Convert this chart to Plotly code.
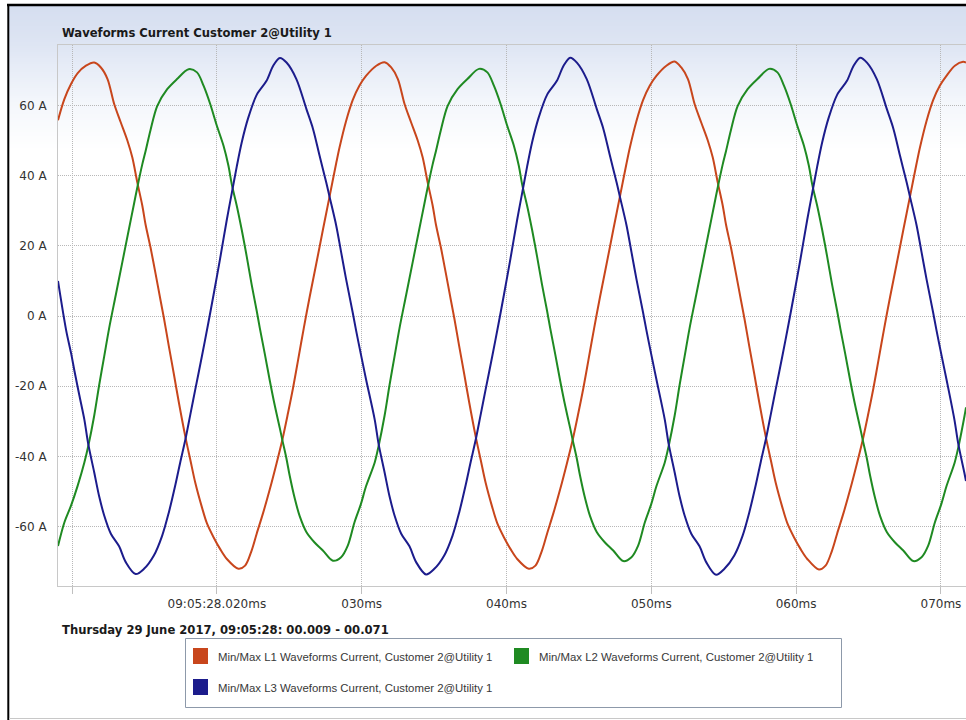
import plotly.graph_objects as go

# ---------------- data (time in ms after 09:05:28) ----------------
l1_t = [9.03, 9.47, 9.93, 10.39, 10.96, 11.53, 11.99, 12.45, 12.91, 13.36, 13.82, 14.16, 14.51, 14.85,
        15.08, 15.42, 15.77, 16.11, 16.34, 16.68, 17.03, 17.37, 17.83, 18.17, 18.51, 18.97, 19.31, 19.77,
        20.23, 20.69, 21.49, 21.95, 22.4, 22.75, 23.2, 23.66, 24.12, 24.53, 24.92, 25.26, 25.61, 26.0,
        26.41, 26.86, 27.32, 27.78, 28.24, 28.47, 28.92, 29.38, 29.84, 30.3,
        31.01, 31.58, 32.04, 32.5, 32.96, 33.41, 33.87, 34.21, 34.56, 34.9, 35.13, 35.47, 35.82, 36.16,
        36.39, 36.73, 37.08, 37.42, 37.88, 38.22, 38.56, 39.02, 39.36, 39.82, 40.28, 40.74, 41.54, 42.0,
        42.45, 42.8, 43.25, 43.71, 44.17, 44.58, 44.97, 45.31, 45.66, 46.05, 46.46, 46.91, 47.37, 47.83,
        48.29, 48.52, 48.97, 49.43, 49.89, 50.35,
        51.04, 51.61, 52.07, 52.53, 52.99, 53.44, 53.9, 54.24, 54.59, 54.93, 55.16, 55.5, 55.85, 56.19,
        56.42, 56.76, 57.11, 57.45, 57.91, 58.25, 58.59, 59.05, 59.39, 59.85, 60.31, 60.77, 61.57, 62.03,
        62.48, 62.83, 63.28, 63.74, 64.2, 64.61, 65.0, 65.34, 65.69, 66.08, 66.49, 66.94, 67.4, 67.86,
        68.32, 68.55, 69.0, 69.46, 69.92, 70.38, 70.96, 71.53, 71.73]
l1_v = [55.8, 61.8, 66.1, 69.2, 71.3, 72.2, 70.8, 67.5, 60.4, 55.2, 50.0, 45.2, 38.0, 31.5,
        26.0, 19.5, 12.0, 4.5, -0.5, -8.5, -16.5, -24.5, -34.5, -41.0, -47.5, -54.5, -59.0, -63.0,
        -66.4, -69.2, -72.0, -71.1, -66.8, -62.0, -56.0, -49.3, -42.0, -35.1, -27.5, -20.5, -12.5, -3.5,
        5.5, 14.8, 24.5, 34.0, 43.5, 48.0, 55.5, 61.5, 65.6, 68.4,
        71.3, 72.3, 70.8, 67.5, 60.4, 55.2, 50.0, 45.2, 38.0, 31.5, 26.0, 19.5, 12.0, 4.5,
        -0.5, -8.5, -16.5, -24.5, -34.5, -41.0, -47.5, -54.5, -59.0, -63.0, -66.4, -69.2, -72.0, -71.1,
        -66.8, -62.0, -56.0, -49.3, -42.0, -35.1, -27.5, -20.5, -12.5, -3.5, 5.5, 14.8, 24.5, 34.0,
        43.5, 48.0, 55.5, 61.5, 65.6, 68.4,
        71.3, 72.5, 70.8, 67.5, 60.4, 55.2, 50.0, 45.2, 38.0, 31.5, 26.0, 19.5, 12.0, 4.5,
        -0.5, -8.5, -16.5, -24.5, -34.5, -41.0, -47.5, -54.5, -59.0, -63.0, -66.4, -69.2, -72.2, -71.1,
        -66.8, -62.0, -56.0, -49.3, -42.0, -35.1, -27.5, -20.5, -12.5, -3.5, 5.5, 14.8, 24.5, 34.0,
        43.5, 48.0, 55.5, 61.5, 65.6, 68.4, 71.3, 72.4, 72.2]

l2_t = [9.03, 9.47, 9.93, 10.39, 10.85, 11.12, 11.53, 11.88, 12.22, 12.56, 13.02, 13.48, 13.94, 14.28,
        14.51, 14.85, 15.08, 15.42, 15.88, 16.57, 17.25, 18.05, 18.63, 19.08, 19.54, 20.0, 20.46, 20.8,
        21.03, 21.37, 21.72, 22.06, 22.4, 22.75, 22.97, 23.32, 23.66, 24.0, 24.35, 24.53, 24.8, 25.03,
        25.38, 25.72, 26.18, 26.75, 27.32, 28.01, 28.58, 29.04, 29.5, 29.95, 30.3,
        30.9, 31.17, 31.58, 31.93, 32.27, 32.61, 33.07, 33.53, 33.99, 34.33, 34.56, 34.9, 35.13, 35.47,
        35.93, 36.62, 37.3, 38.1, 38.68, 39.13, 39.59, 40.05, 40.51, 40.85, 41.08, 41.42, 41.77, 42.11,
        42.45, 42.8, 43.02, 43.37, 43.71, 44.05, 44.4, 44.58, 44.85, 45.08, 45.43, 45.77, 46.23, 46.8,
        47.37, 48.06, 48.63, 49.09, 49.55, 50.0, 50.35,
        50.93, 51.2, 51.61, 51.96, 52.3, 52.64, 53.1, 53.56, 54.02, 54.36, 54.59, 54.93, 55.16, 55.5,
        55.96, 56.65, 57.33, 58.13, 58.71, 59.16, 59.62, 60.08, 60.54, 60.88, 61.11, 61.45, 61.8, 62.14,
        62.48, 62.83, 63.05, 63.4, 63.74, 64.08, 64.43, 64.61, 64.88, 65.11, 65.46, 65.8, 66.26, 66.83,
        67.4, 68.09, 68.66, 69.12, 69.58, 70.03, 70.38, 70.95, 71.22, 71.63, 71.73]
l2_v = [-65.5, -58.8, -54.0, -48.3, -41.7, -37.0, -28.4, -19.5, -11.5, -3.5, 6.0, 15.5, 25.0, 32.0,
        36.7, 43.2, 47.0, 53.0, 59.8, 64.6, 67.5, 70.3, 69.4, 65.6, 60.4, 54.2, 48.5, 42.8,
        37.5, 31.5, 24.5, 17.0, 9.0, 1.5, -3.5, -11.0, -18.5, -25.5, -32.0, -35.5, -40.5, -45.5,
        -52.0, -57.0, -61.5, -64.5, -66.8, -69.7, -68.7, -65.4, -58.8, -53.5, -48.5,
        -41.7, -37.0, -28.4, -19.5, -11.5, -3.5, 6.0, 15.5, 25.0, 32.0, 36.7, 43.2, 47.0, 53.0,
        59.8, 64.6, 67.5, 70.4, 69.4, 65.6, 60.4, 54.2, 48.5, 42.8, 37.5, 31.5, 24.5, 17.0,
        9.0, 1.5, -3.5, -11.0, -18.5, -25.5, -32.0, -35.5, -40.5, -45.5, -52.0, -57.0, -61.5, -64.5,
        -66.8, -69.8, -68.7, -65.4, -58.8, -53.5, -48.5,
        -41.7, -37.0, -28.4, -19.5, -11.5, -3.5, 6.0, 15.5, 25.0, 32.0, 36.7, 43.2, 47.0, 53.0,
        59.8, 64.6, 67.5, 70.4, 69.4, 65.6, 60.4, 54.2, 48.5, 42.8, 37.5, 31.5, 24.5, 17.0,
        9.0, 1.5, -3.5, -11.0, -18.5, -25.5, -32.0, -35.5, -40.5, -45.5, -52.0, -57.0, -61.5, -64.5,
        -66.8, -69.8, -68.7, -65.4, -58.8, -53.5, -48.5, -41.7, -37.0, -28.4, -26.0]

l3_t = [9.03, 9.59, 9.93, 10.16, 10.5, 10.85, 11.12, 11.53, 11.88, 12.22, 12.68, 13.25, 13.71, 14.39,
        14.97, 15.65, 16.22, 16.68, 17.14, 17.48, 17.83, 18.17, 18.51, 18.97, 19.4, 19.77, 20.23, 20.69,
        21.03, 21.37, 21.72, 22.17, 22.75, 23.43, 23.89, 24.35, 24.81, 25.49, 26.18, 26.64, 27.09, 27.55,
        27.78, 28.24, 28.58, 28.92, 29.38, 29.61, 29.95, 30.3,
        30.9, 31.17, 31.58, 31.93, 32.27, 32.73, 33.3, 33.76, 34.44, 35.02, 35.7, 36.27, 36.73, 37.19,
        37.53, 37.88, 38.22, 38.56, 39.02, 39.45, 39.82, 40.28, 40.74, 41.08, 41.42, 41.77, 42.22, 42.8,
        43.48, 43.94, 44.4, 44.86, 45.54, 46.23, 46.69, 47.14, 47.6, 47.83, 48.29, 48.63, 48.97, 49.43,
        49.66, 50.0, 50.35,
        50.93, 51.2, 51.61, 51.96, 52.3, 52.76, 53.33, 53.79, 54.47, 55.05, 55.73, 56.3, 56.76, 57.22,
        57.56, 57.91, 58.25, 58.59, 59.05, 59.48, 59.85, 60.31, 60.77, 61.11, 61.45, 61.8, 62.25, 62.83,
        63.51, 63.97, 64.43, 64.89, 65.57, 66.26, 66.72, 67.17, 67.63, 67.86, 68.32, 68.66, 69.0, 69.46,
        69.69, 70.03, 70.38, 70.93, 71.2, 71.61, 71.73]
l3_v = [10.0, -4.0, -10.5, -15.5, -22.5, -29.5, -36.5, -44.5, -51.5, -56.8, -62.0, -65.6, -70.1, -73.5,
        -72.0, -68.2, -62.6, -56.0, -48.0, -41.5, -35.1, -28.0, -20.9, -11.4, -2.2, 6.0, 16.5, 27.5,
        35.0, 42.5, 49.5, 56.5, 63.0, 67.0, 71.3, 73.5, 72.2, 67.5, 59.0, 53.3, 45.7, 38.1,
        34.0, 25.8, 18.2, 10.6, 1.0, -4.0, -11.0, -18.0,
        -29.5, -36.5, -44.5, -51.5, -56.8, -62.0, -65.6, -70.1, -73.6, -72.0, -68.2, -62.6, -56.0, -48.0,
        -41.5, -35.1, -28.0, -20.9, -11.4, -2.2, 6.0, 16.5, 27.5, 35.0, 42.5, 49.5, 56.5, 63.0,
        67.0, 71.3, 73.6, 72.2, 67.5, 59.0, 53.3, 45.7, 38.1, 34.0, 25.8, 18.2, 10.6, 1.0,
        -4.0, -11.0, -18.0,
        -29.5, -36.5, -44.5, -51.5, -56.8, -62.0, -65.6, -70.1, -73.7, -72.0, -68.2, -62.6, -56.0, -48.0,
        -41.5, -35.1, -28.0, -20.9, -11.4, -2.2, 6.0, 16.5, 27.5, 35.0, 42.5, 49.5, 56.5, 63.0,
        67.0, 71.3, 73.6, 72.2, 67.5, 59.0, 53.3, 45.7, 38.1, 34.0, 25.8, 18.2, 10.6, 1.0,
        -4.0, -11.0, -18.0, -29.5, -36.5, -44.5, -47.0]

assert len(l1_t) == len(l1_v) and len(l2_t) == len(l2_v) and len(l3_t) == len(l3_v)

series_names = [
    "Min/Max L1 Waveforms Current, Customer 2@Utility 1",
    "Min/Max L2 Waveforms Current, Customer 2@Utility 1",
    "Min/Max L3 Waveforms Current, Customer 2@Utility 1",
]
series_colors = ["#c8461c", "#1f8a22", "#1c1c8c"]

x_tickvals = [10, 20, 30, 40, 50, 60, 70]
x_ticktext = ["", "09:05:28.020ms", "030ms", "040ms", "050ms", "060ms", "070ms"]
y_tickvals = [-60, -40, -20, 0, 20, 40, 60]
y_ticktext = ["-60 A", "-40 A", "-20 A", "0 A", "20 A", "40 A", "60 A"]

title_text = "Waveforms Current Customer 2@Utility 1"
range_text = "Thursday 29 June 2017, 09:05:28: 00.009 - 00.071"

# ---------------- geometry helpers ----------------
W, H = 966, 720
ML, MR, MT, MB = 58, 0, 45, 134
PW, PH = W - ML - MR, H - MT - MB


def xp(px):
    return (px - ML) / PW


def yp(py):
    return (H - MB - py) / PH


fig = go.Figure()
for t, v, name, col in zip([l1_t, l2_t, l3_t], [l1_v, l2_v, l3_v], series_names, series_colors):
    fig.add_trace(go.Scatter(x=t, y=v, mode="lines", name=name,
                             line=dict(color=col, width=2, shape="spline", smoothing=0.9),
                             showlegend=False, hoverinfo="skip"))

shapes = []
# vertical gradient background
stops = [(6, (213, 222, 240)), (45, (222, 229, 243)), (60, (228, 234, 246)),
         (100, (243, 246, 251)), (150, (255, 255, 255))]


def col_at(py):
    for (a, ca), (b, cb) in zip(stops[:-1], stops[1:]):
        if a <= py <= b:
            f = (py - a) / (b - a)
            return "rgb(%d,%d,%d)" % tuple(round(ca[i] + (cb[i] - ca[i]) * f) for i in range(3))
    return "rgb(255,255,255)"


py = 6
while py < 150:
    shapes.append(dict(type="rect", xref="paper", yref="paper", x0=xp(9), x1=xp(W + 2),
                       y0=yp(py + 2.2), y1=yp(py), fillcolor=col_at(py + 1), line=dict(width=0),
                       layer="below"))
    py += 2

# outer frame lines
shapes.append(dict(type="line", xref="paper", yref="paper", x0=xp(7), x1=xp(W + 2), y0=yp(5), y1=yp(5),
                   line=dict(color="#000000", width=2.5)))
shapes.append(dict(type="line", xref="paper", yref="paper", x0=xp(8.3), x1=xp(8.3), y0=yp(4), y1=yp(H + 2),
                   line=dict(color="#000000", width=2)))
shapes.append(dict(type="line", xref="paper", yref="paper", x0=xp(9), x1=xp(W + 2), y0=yp(718.5), y1=yp(718.5),
                   line=dict(color="#c8c8c8", width=1)))

# legend box & swatches
shapes.append(dict(type="rect", xref="paper", yref="paper", x0=xp(185.5), x1=xp(841.5), y0=yp(707.5), y1=yp(638.5),
                   line=dict(color="#8d99aa", width=1), fillcolor="rgba(255,255,255,0)"))
legend_pos = [(193, 656), (514, 656), (193, 687)]
annotations = []
for (lx, ly), name, col in zip(legend_pos, series_names, series_colors):
    shapes.append(dict(type="rect", xref="paper", yref="paper", x0=xp(lx), x1=xp(lx + 15),
                       y0=yp(ly + 8), y1=yp(ly - 8), fillcolor=col, line=dict(width=0)))
    annotations.append(dict(text=name, xref="paper", yref="paper", x=xp(lx + 23), y=yp(ly + 0.5),
                            xanchor="left", yanchor="middle", showarrow=False,
                            font=dict(family="Liberation Sans, Arial, sans-serif",
                                      size=11.4, color="#383838")))

annotations.append(dict(text="<b>%s</b>" % title_text, xref="paper", yref="paper", x=xp(60), y=yp(33),
                        xanchor="left", yanchor="middle", showarrow=False,
                        font=dict(family="DejaVu Sans Condensed, DejaVu Sans", size=12.9, color="#1a1a1a")))
annotations.append(dict(text="<b>%s</b>" % range_text, xref="paper", yref="paper", x=xp(60), y=yp(629),
                        xanchor="left", yanchor="middle", showarrow=False,
                        font=dict(family="DejaVu Sans Condensed, DejaVu Sans", size=12.9, color="#1a1a1a")))

fig.update_layout(
    width=W, height=H, autosize=False,
    margin=dict(l=ML, r=MR, t=MT, b=MB, pad=0),
    paper_bgcolor="#ffffff", plot_bgcolor="rgba(0,0,0,0)",
    shapes=shapes, annotations=annotations, showlegend=False,
    xaxis=dict(range=[9.03, 71.73], tickmode="array", tickvals=x_tickvals, ticktext=x_ticktext,
               showgrid=True, gridcolor="#b8b8b8", griddash="1px,1px", gridwidth=1,
               ticks="outside", ticklen=7, tickcolor="#c0c0c0", tickwidth=1,
               showline=True, linecolor="#c8c8c8", linewidth=1, mirror=True, zeroline=False,
               tickfont=dict(family="DejaVu Sans", size=12, color="#333333"), fixedrange=True),
    yaxis=dict(range=[-76.9, 77.2], tickmode="array", tickvals=y_tickvals, ticktext=y_ticktext,
               showgrid=True, gridcolor="#b8b8b8", griddash="1px,1px", gridwidth=1,
               ticks="", showline=True, linecolor="#c8c8c8", linewidth=1, zeroline=False,
               ticklabelstandoff=8,
               tickfont=dict(family="DejaVu Sans", size=12, color="#333333"), fixedrange=True),
)

fig.write_html("out.html", config={"displayModeBar": False},
               post_script="document.body.style.margin='0px';document.body.style.padding='0px';"
                           "document.body.style.overflow='hidden';")
